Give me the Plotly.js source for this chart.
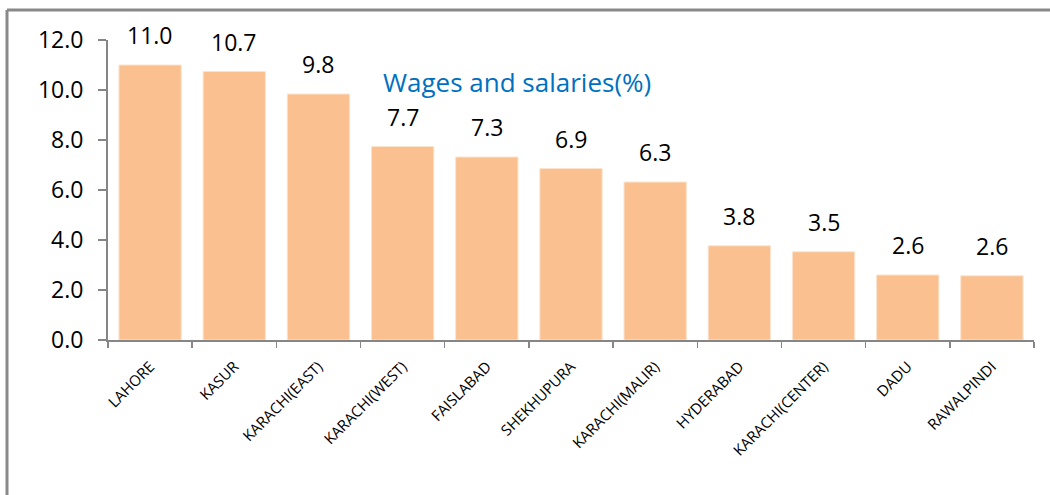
<!DOCTYPE html>
<html>
<head>
<meta charset="utf-8">
<script src="https://cdn.plot.ly/plotly-3.0.1.min.js"></script>
<style>html,body{margin:0;padding:0;background:#fff;}#chart{width:1050px;height:495px;}</style>
</head>
<body>
<div id="chart"></div>
<script>
const categories = ["LAHORE","KASUR","KARACHI(EAST)","KARACHI(WEST)","FAISLABAD","SHEKHUPURA","KARACHI(MALIR)","HYDERABAD","KARACHI(CENTER)","DADU","RAWALPINDI"];
const values = [11.0, 10.74, 9.84, 7.74, 7.32, 6.86, 6.32, 3.77, 3.53, 2.6, 2.57];
const yTicks = [0, 2, 4, 6, 8, 10, 12];
const chartTitle = "Wages and salaries(%)";

const W = 1050, H = 495;
const mL = 108, mR = 16, mT = 40, mB = 155;
const pw = W - mL - mR, ph = H - mT - mB;
const px = x => (x - mL) / pw;
const py = y => (H - mB - y) / ph;

const font = "Open Sans, Noto Sans, sans-serif";

const trace = {
  type: "bar",
  x: categories,
  y: values,
  marker: {color: "#FAC090", line: {color: "#FCE3CC", width: 1}},
  hoverinfo: "x+y"
};

const labelAnns = categories.map((c, i) => ({
  x: c, y: values[i], xref: "x", yref: "y",
  text: values[i].toFixed(1),
  showarrow: false, yanchor: "bottom", yshift: 12,
  font: {family: font, size: 23, color: "#000"}
}));

const layout = {
  width: W, height: H,
  margin: {l: mL, r: mR, t: mT, b: mB, pad: 0},
  paper_bgcolor: "#fff", plot_bgcolor: "#fff",
  showlegend: false,
  bargap: 0.26,
  xaxis: {
    type: "category",
    tickangle: -45,
    tickfont: {family: font, size: 15, color: "#000"},
    showline: true, linecolor: "#868686", linewidth: 2,
    ticks: "outside", ticklen: 6, tickcolor: "#868686", tickwidth: 1.5,
    tickson: "boundaries",
    ticklabelstandoff: 10,
    showgrid: false, zeroline: false, fixedrange: true
  },
  yaxis: {
    range: [0, 12],
    tickvals: yTicks,
    ticktext: yTicks.map(v => v.toFixed(1)),
    tickfont: {family: font, size: 23, color: "#000"},
    showline: true, linecolor: "#868686", linewidth: 2,
    ticks: "outside", ticklen: 8, tickcolor: "#868686", tickwidth: 1.5,
    ticklabelstandoff: 10,
    showgrid: false, zeroline: false, fixedrange: true
  },
  annotations: labelAnns.concat([{
    xref: "paper", yref: "paper",
    x: px(517), y: py(82), xanchor: "center", yanchor: "middle",
    text: chartTitle, showarrow: false,
    font: {family: font, size: 26, color: "#0070C0"}
  }]),
  shapes: [
    {type: "line", xref: "paper", yref: "paper", x0: px(7), x1: px(1052), y0: py(10), y1: py(10), line: {color: "#898989", width: 3}},
    {type: "line", xref: "paper", yref: "paper", x0: px(7), x1: px(7), y0: py(10), y1: py(497), line: {color: "#898989", width: 3}}
  ]
};

Plotly.newPlot("chart", [trace], layout, {displayModeBar: false, staticPlot: true});
</script>
</body>
</html>
